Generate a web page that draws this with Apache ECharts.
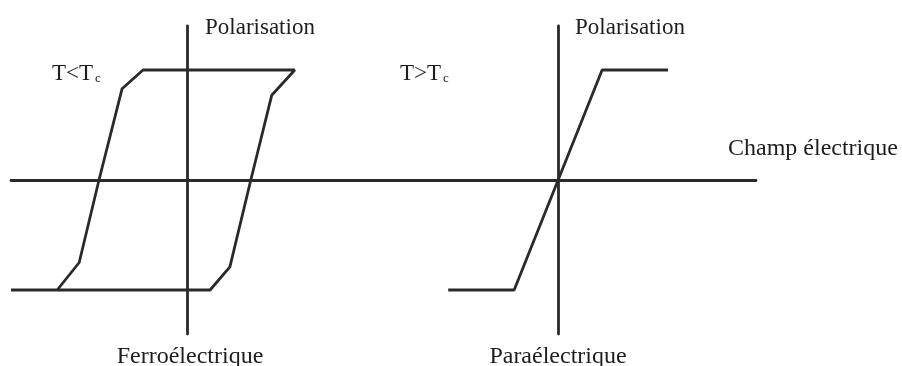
<!DOCTYPE html>
<html>
<head>
<meta charset="utf-8">
<script src="https://cdn.jsdelivr.net/npm/echarts@6/dist/echarts.min.js"></script>
<style>
  html, body { margin: 0; padding: 0; background: #fff; }
  #chart { width: 902px; height: 366px; }
</style>
</head>
<body>
<div id="chart"></div>
<script>
// hysteresis loop (T < Tc), E and P in arbitrary units, P = ±1 at saturation
var ferroE = [-1.6, 0.21, 0.39, 0.58, 0.77, 0.98, -0.40, -0.59, -0.80, -0.98, -1.18];
var ferroP = [-1, -1, -0.79, 0, 0.77, 1, 1, 0.83, 0, -0.75, -1];
// paraelectric response (T > Tc)
var paraE = [-1.0, -0.4, 0.4, 1.0];
var paraP = [-1, -1, 1, 1];

var axisLabels = {
  pol: 'Polarisation',
  field: 'Champ électrique',
  ferro: 'Ferroélectrique',
  para: 'Paraélectrique'
};

var ink = '#2a2a2a';
var serif = '"Liberation Serif", "DejaVu Serif", serif';

function pairs(xs, ys) {
  return xs.map(function (x, i) { return [x, ys[i]]; });
}

function valueAxis(idx, min, max) {
  return {
    type: 'value',
    gridIndex: idx,
    min: min,
    max: max,
    axisLine: { show: true, onZero: true, lineStyle: { color: ink, width: 2.8 } },
    axisTick: { show: false },
    axisLabel: { show: false },
    splitLine: { show: false }
  };
}

function label(text, x, y, align, size) {
  return {
    type: 'text',
    x: x,
    y: y,
    style: {
      text: text,
      font: (size || 24) + 'px ' + serif,
      fill: '#1e1e1e',
      textAlign: align,
      textVerticalAlign: 'middle'
    }
  };
}

function tempLabel(sign, x) {
  return {
    type: 'text',
    x: x,
    y: 74,
    style: {
      text: '{n|T' + sign + 'T}{s|c}',
      fill: '#1e1e1e',
      textVerticalAlign: 'middle',
      rich: {
        n: { fontFamily: 'Liberation Serif', fontSize: 23, fill: '#1e1e1e' },
        s: { fontFamily: 'Liberation Serif', fontSize: 13, fill: '#1e1e1e', verticalAlign: 'bottom', padding: [0, 0, 0, 2] }
      }
    }
  };
}

var chart = echarts.init(document.getElementById('chart'));
chart.setOption({
  animation: false,
  backgroundColor: '#fff',
  grid: [
    { left: 11, width: 374, top: 26, height: 308 },
    { left: 385, width: 371, top: 26, height: 308 }
  ],
  xAxis: [valueAxis(0, -1.6, 1.8), valueAxis(1, -1.575, 1.8)],
  yAxis: [valueAxis(0, -1.4, 1.4), valueAxis(1, -1.4, 1.4)],
  series: [
    {
      type: 'line',
      xAxisIndex: 0,
      yAxisIndex: 0,
      data: pairs(ferroE, ferroP),
      showSymbol: false,
      lineStyle: { color: ink, width: 2.8 }
    },
    {
      type: 'line',
      xAxisIndex: 1,
      yAxisIndex: 1,
      data: pairs(paraE, paraP),
      showSymbol: false,
      lineStyle: { color: ink, width: 2.8 }
    }
  ],
  graphic: [
    label(axisLabels.pol, 205, 28, 'left', 23),
    label(axisLabels.pol, 575, 28, 'left', 23),
    tempLabel('<', 52),
    tempLabel('>', 400),
    label(axisLabels.field, 728, 149, 'left', 24),
    label(axisLabels.ferro, 190, 357, 'center', 24),
    label(axisLabels.para, 558, 357, 'center', 24)
  ]
});
</script>
</body>
</html>
